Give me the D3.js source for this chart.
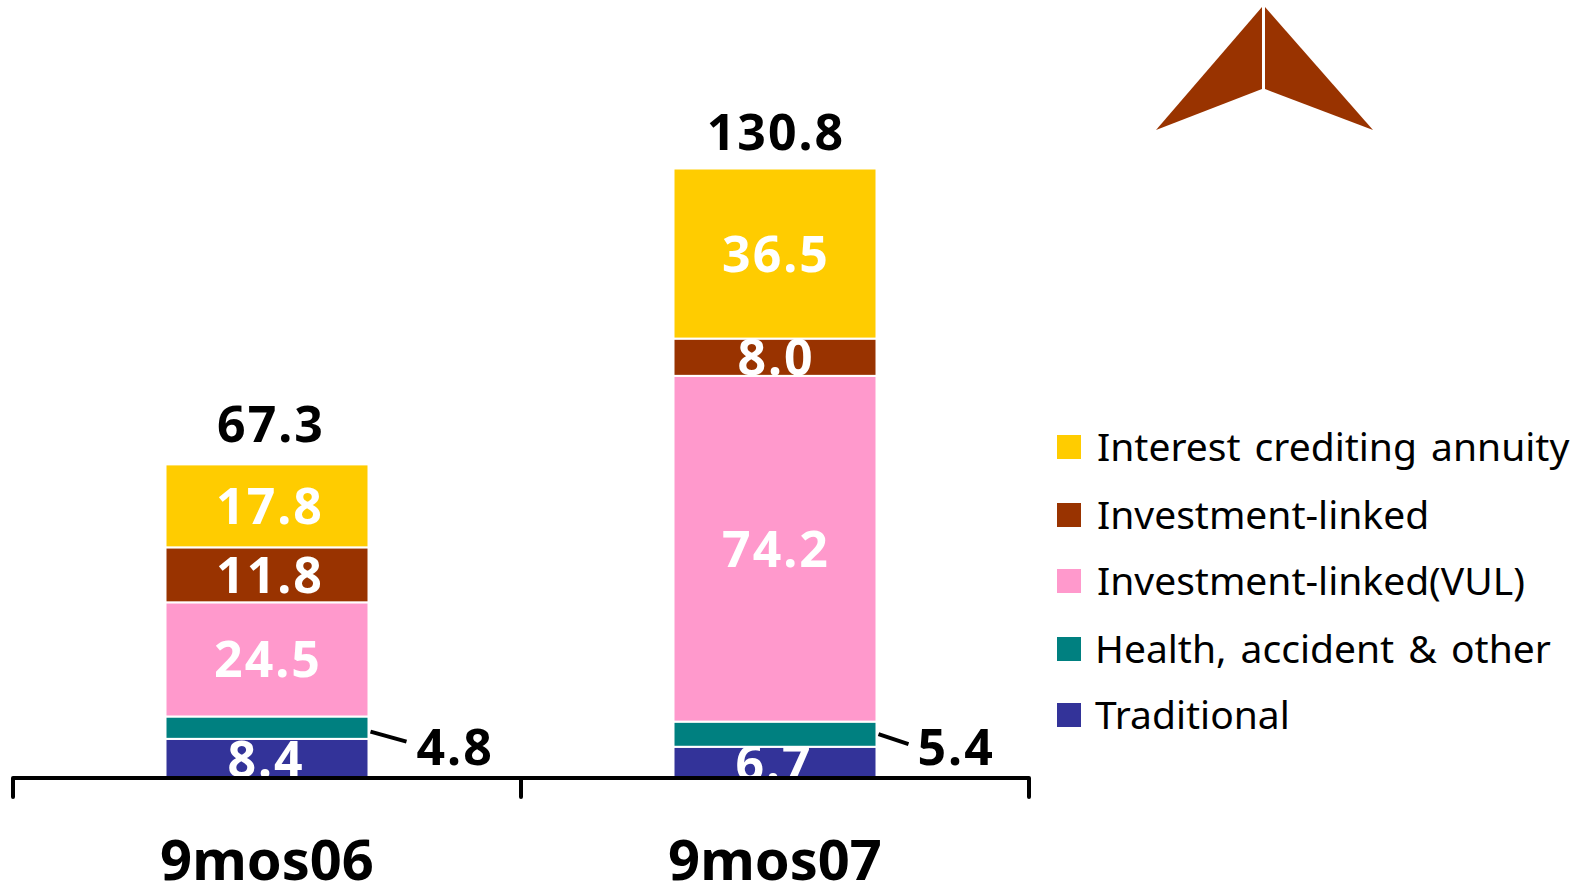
<!DOCTYPE html>
<html>
<head>
<meta charset="utf-8">
<script src="https://cdn.jsdelivr.net/npm/d3@7"></script>
<style>
html,body{margin:0;padding:0;background:#fff;overflow:hidden}
text{font-family:"Noto Sans",Verdana,sans-serif}
</style>
</head>
<body>
<svg id="chart" width="1581" height="883"></svg>
<script>
const periods = ["9mos06", "9mos07"];
const totals = [67.3, 130.8];
const seriesNames = ["Traditional", "Health, accident & other", "Investment-linked(VUL)", "Investment-linked", "Interest crediting annuity"];
const traditional = [8.4, 6.7];
const health = [4.8, 5.4];
const vul = [24.5, 74.2];
const investmentLinked = [11.8, 8.0];
const annuity = [17.8, 36.5];
const seriesColors = ["#333399", "#008080", "#FF99CC", "#993300", "#FFCC00"];

const svg = d3.select("#chart");
const baseY = 778;
const y = d3.scaleLinear().domain([0, 130.8]).range([baseY, 168.5]);
const x = d3.scaleBand().domain(periods).range([13, 1029]);
const barWidth = 203;
const rows = [traditional, health, vul, investmentLinked, annuity];
const valueFont = 50, valueSpacing = 2;
const totalGap = [22, 19];
const totalShift = [4, 1];
const leaderDrop = [4, 0];
const leaderLength = [36, 30];
const calloutGap = [48, 41];

// Clip inline labels at the baseline
svg.append("defs").append("clipPath").attr("id", "plot")
  .append("rect").attr("x", 0).attr("y", 0).attr("width", 1581).attr("height", baseY);

// Stacked segments with their inline value labels
periods.forEach((p, i) => {
  let acc = 0;
  const cx = x(p) + x.bandwidth() / 2;
  rows.forEach((vals, s) => {
    const v = vals[i];
    const top = y(acc + v), bottom = y(acc);
    svg.append("rect").attr("x", cx - barWidth / 2).attr("width", barWidth)
      .attr("y", top).attr("height", bottom - top)
      .attr("fill", seriesColors[s]).attr("stroke", "#fff").attr("stroke-width", 2);
    if (s !== 1) {
      const shift = s === 0 ? -1 : (i === 0 && s > 2 ? 3 : 1);
      svg.append("text").attr("x", cx + shift).attr("y", (top + bottom) / 2 + (s === 0 ? 19 : 18))
        .attr("clip-path", "url(#plot)")
        .attr("text-anchor", "middle").attr("font-size", valueFont)
        .attr("letter-spacing", valueSpacing)
        .attr("font-weight", 700).attr("fill", "#fff").text(v.toFixed(1));
    }
    acc += v;
  });
  svg.append("text").attr("x", cx + totalShift[i]).attr("y", y(totals[i]) - totalGap[i])
    .attr("text-anchor", "middle").attr("font-size", valueFont)
    .attr("letter-spacing", valueSpacing)
    .attr("font-weight", 700).attr("fill", "#000").text(totals[i].toFixed(1));

  // Leader line and outside label for the thin health segment
  const hy = y(rows[0][i] + health[i] / 2) + leaderDrop[i];
  svg.append("line").attr("x1", cx + barWidth / 2 + 2).attr("y1", hy)
    .attr("x2", cx + barWidth / 2 + 2 + leaderLength[i]).attr("y2", hy + 10)
    .attr("stroke", "#000").attr("stroke-width", 4);
  svg.append("text").attr("x", cx + barWidth / 2 + calloutGap[i]).attr("y", y(0) - 13)
    .attr("font-size", valueFont).attr("font-weight", 700).attr("fill", "#000")
    .attr("letter-spacing", valueSpacing)
    .text(health[i].toFixed(1));
});

// Baseline with outer and category ticks
const axis = d3.axisBottom(x).tickSize(0).tickPadding(52);
const axisG = svg.append("g").attr("transform", `translate(0,${baseY})`).call(axis);
axisG.select(".domain").attr("stroke", "#000").attr("stroke-width", 4)
  .attr("stroke-linecap", "round").attr("stroke-linejoin", "round").attr("fill", "none")
  .attr("d", `M13,19V0H1029V19M521,0V19`);
axisG.selectAll("text").attr("font-size", 56).attr("font-weight", 700).attr("fill", "#000")
  .attr("dy", "0.9em");

// Legend, listed top to bottom
const legendY = [448, 516, 582, 650, 716];
const legendX = [1097, 1097, 1097, 1095, 1095];
d3.range(5).forEach(k => {
  const s = 4 - k;
  svg.append("rect").attr("x", 1057).attr("y", legendY[k] - 13).attr("width", 24).attr("height", 24)
    .attr("fill", seriesColors[s]);
  svg.append("text").attr("x", legendX[k]).attr("y", legendY[k] + 13)
    .attr("font-size", 39).attr("word-spacing", 4).attr("fill", "#000").text(seriesNames[s]);
});

// Arrowhead mark in the upper right
const arrowLeft = [[1262, 7], [1262, 89], [1156, 130]];
const arrowRight = [[1265, 7], [1265, 89], [1373, 130]];
[arrowLeft, arrowRight].forEach(pts => {
  svg.append("path").attr("d", d3.line()(pts) + "Z").attr("fill", "#993300");
});
</script>
</body>
</html>
